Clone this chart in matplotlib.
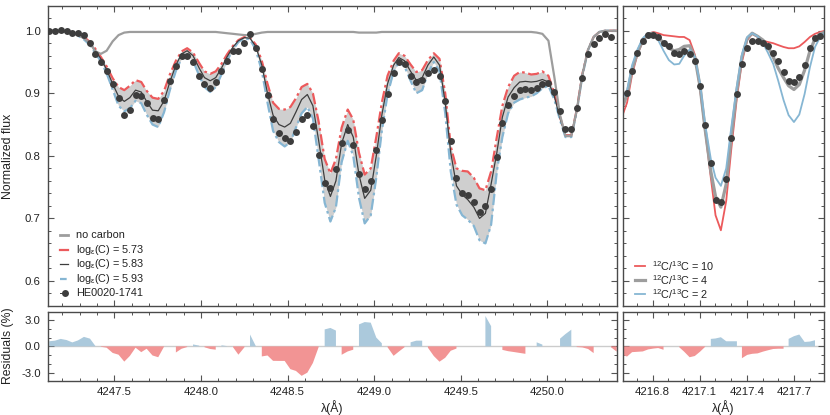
import numpy as np
import matplotlib
matplotlib.use("Agg")
import matplotlib.pyplot as plt
from matplotlib.ticker import MultipleLocator, FixedLocator, FormatStrFormatter

plt.rcParams['font.family'] = ['Liberation Sans', 'DejaVu Sans']
plt.rcParams['mathtext.fontset'] = 'custom'
plt.rcParams['mathtext.rm'] = 'Liberation Sans'
plt.rcParams['mathtext.it'] = 'Liberation Sans:italic'
plt.rcParams['axes.unicode_minus'] = False

# ---------------- left panel (CH band 4247-4250 A) ----------------
lam_obs_left = [
    4247.124, 4247.157, 4247.190, 4247.224, 4247.257, 4247.290, 4247.324, 4247.359, 4247.390, 4247.422,
    4247.455, 4247.490, 4247.524, 4247.557, 4247.589, 4247.622, 4247.655, 4247.686, 4247.720, 4247.753,
    4247.787, 4247.820, 4247.855, 4247.888, 4247.920, 4247.954, 4247.990, 4248.020, 4248.053, 4248.085,
    4248.118, 4248.150, 4248.185, 4248.216, 4248.251, 4248.283, 4248.316, 4248.351, 4248.384, 4248.416,
    4248.450, 4248.483, 4248.516, 4248.548, 4248.581, 4248.614, 4248.646, 4248.679, 4248.714, 4248.747,
    4248.779, 4248.812, 4248.847, 4248.879, 4248.912, 4248.945, 4248.980, 4249.012, 4249.044, 4249.077,
    4249.112, 4249.142, 4249.175, 4249.210, 4249.243, 4249.277, 4249.310, 4249.344, 4249.377, 4249.410,
    4249.442, 4249.475, 4249.508, 4249.540, 4249.575, 4249.608, 4249.642, 4249.675, 4249.708, 4249.740,
    4249.773, 4249.808, 4249.840, 4249.873, 4249.906, 4249.938, 4249.971, 4250.006, 4250.040, 4250.073,
    4250.104, 4250.138, 4250.169, 4250.202, 4250.235, 4250.267, 4250.300, 4250.334, 4250.367]
flux_obs_left = [
    1.000, 1.000, 1.001, 1.000, 0.996, 0.996, 0.993, 0.981, 0.963, 0.950,
    0.936, 0.915, 0.893, 0.866, 0.874, 0.897, 0.895, 0.884, 0.860, 0.859,
    0.890, 0.920, 0.943, 0.959, 0.960, 0.950, 0.927, 0.915, 0.909, 0.918,
    0.935, 0.952, 0.968, 0.968, 0.981, 0.995, 0.973, 0.939, 0.898, 0.859,
    0.837, 0.829, 0.824, 0.838, 0.859, 0.866, 0.848, 0.802, 0.756, 0.748,
    0.779, 0.821, 0.842, 0.817, 0.771, 0.747, 0.760, 0.809, 0.858, 0.899,
    0.932, 0.950, 0.946, 0.928, 0.918, 0.921, 0.932, 0.937, 0.928, 0.887,
    0.824, 0.765, 0.741, 0.738, 0.726, 0.710, 0.720, 0.747, 0.798, 0.853,
    0.881, 0.895, 0.906, 0.907, 0.906, 0.909, 0.915, 0.917, 0.902, 0.872,
    0.843, 0.843, 0.876, 0.925, 0.963, 0.978, 0.988, 0.995, 0.990]

lam_model_left = [4247.09] + lam_obs_left + [4250.42]
model_583 = [1.000,
    1.000, 1.000, 0.999, 0.998, 0.996, 0.993, 0.988, 0.980, 0.968, 0.955,
    0.938, 0.915, 0.895, 0.887, 0.893, 0.905, 0.902, 0.887, 0.873, 0.872,
    0.888, 0.918, 0.945, 0.963, 0.968, 0.960, 0.940, 0.925, 0.920, 0.925,
    0.940, 0.958, 0.974, 0.984, 0.989, 0.988, 0.975, 0.945, 0.900, 0.865,
    0.850, 0.846, 0.852, 0.870, 0.890, 0.898, 0.880, 0.825, 0.762, 0.735,
    0.760, 0.820, 0.850, 0.830, 0.770, 0.732, 0.745, 0.800, 0.865, 0.915,
    0.945, 0.957, 0.952, 0.935, 0.921, 0.925, 0.945, 0.958, 0.945, 0.885,
    0.805, 0.752, 0.738, 0.730, 0.718, 0.700, 0.708, 0.755, 0.805, 0.862,
    0.894, 0.909, 0.918, 0.919, 0.918, 0.919, 0.922, 0.918, 0.895, 0.860,
    0.832, 0.832, 0.872, 0.930, 0.970, 0.990, 0.998, 1.000, 1.000,
    1.000]
model_573 = [1.000,
    1.000, 1.000, 0.999, 0.998, 0.996, 0.994, 0.990, 0.982, 0.971, 0.958,
    0.943, 0.924, 0.910, 0.905, 0.912, 0.921, 0.918, 0.904, 0.893, 0.891,
    0.904, 0.930, 0.952, 0.967, 0.972, 0.965, 0.948, 0.935, 0.931, 0.935,
    0.947, 0.962, 0.976, 0.985, 0.990, 0.989, 0.978, 0.952, 0.915, 0.885,
    0.875, 0.874, 0.878, 0.892, 0.910, 0.915, 0.900, 0.855, 0.795, 0.772,
    0.795, 0.845, 0.874, 0.858, 0.805, 0.770, 0.780, 0.830, 0.885, 0.928,
    0.952, 0.964, 0.960, 0.946, 0.934, 0.937, 0.953, 0.964, 0.955, 0.900,
    0.815, 0.780, 0.776, 0.775, 0.765, 0.748, 0.745, 0.775, 0.830, 0.880,
    0.910, 0.928, 0.934, 0.933, 0.930, 0.931, 0.935, 0.928, 0.900, 0.862,
    0.833, 0.833, 0.873, 0.931, 0.970, 0.990, 0.998, 1.000, 1.000,
    1.000]
model_593 = [1.000,
    1.000, 1.000, 0.999, 0.998, 0.995, 0.992, 0.986, 0.977, 0.964, 0.951,
    0.932, 0.906, 0.880, 0.871, 0.876, 0.888, 0.884, 0.866, 0.850, 0.846,
    0.870, 0.905, 0.936, 0.956, 0.962, 0.952, 0.928, 0.910, 0.902, 0.910,
    0.930, 0.952, 0.970, 0.982, 0.988, 0.986, 0.970, 0.936, 0.885, 0.840,
    0.822, 0.815, 0.822, 0.845, 0.868, 0.878, 0.860, 0.795, 0.725, 0.695,
    0.718, 0.790, 0.824, 0.800, 0.733, 0.692, 0.705, 0.765, 0.840, 0.898,
    0.935, 0.950, 0.943, 0.920, 0.900, 0.905, 0.932, 0.950, 0.935, 0.868,
    0.775, 0.722, 0.705, 0.698, 0.688, 0.665, 0.660, 0.690, 0.775, 0.830,
    0.868, 0.885, 0.890, 0.893, 0.895, 0.900, 0.908, 0.912, 0.890, 0.857,
    0.830, 0.830, 0.870, 0.928, 0.969, 0.990, 0.998, 1.000, 1.000,
    1.000]
model_nocarbon = [1.000,
    1.000, 1.000, 0.999, 0.998, 0.996, 0.993, 0.988, 0.980, 0.967, 0.963,
    0.968, 0.983, 0.993, 0.997, 0.998, 0.998, 0.998, 0.998, 0.998, 0.998,
    0.998, 0.998, 0.998, 0.998, 0.998, 0.998, 0.998, 0.998, 0.998, 0.998,
    0.997, 0.996, 0.995, 0.994, 0.993, 0.993, 0.995, 0.997, 0.998, 0.998,
    0.998, 0.998, 0.998, 0.998, 0.998, 0.998, 0.998, 0.998, 0.998, 0.998,
    0.998, 0.998, 0.998, 0.998, 0.997, 0.997, 0.997, 0.997, 0.998, 0.998,
    0.998, 0.998, 0.998, 0.998, 0.998, 0.998, 0.998, 0.998, 0.998, 0.998,
    0.998, 0.998, 0.998, 0.998, 0.998, 0.998, 0.998, 0.998, 0.998, 0.998,
    0.998, 0.998, 0.998, 0.998, 0.998, 0.997, 0.995, 0.984, 0.926, 0.865,
    0.832, 0.832, 0.872, 0.930, 0.970, 0.990, 0.998, 1.000, 1.000,
    1.000]

lam_res_left = lam_obs_left + [4250.40]
res_left = [
    0.58, 0.65, 0.85, 0.72, 0.45, 0.68, 1.08, 0.88, 0.05, -0.05,
    -0.15, -0.75, -0.95, -1.74, -1.10, -0.15, -0.66, -0.27, -1.04, -1.24,
    -0.02, 0.02, -0.70, -0.27, -0.08, 0.22, 0.08, -0.10, -0.30, -0.38,
    0.12, 0.03, -0.10, -0.95, -0.10, 1.35, 0.05, -1.15, -1.04, -1.65,
    -1.66, -1.66, -2.60, -2.80, -3.36, -3.00, -1.90, -0.10, 1.93, 2.10,
    1.80, -0.96, -0.58, -0.38, 2.50, 2.77, 2.70, 1.00, 0.35, -0.10,
    -1.08, -0.60, -0.10, 0.46, 0.65, 0.65, -0.15, -1.10, -1.75, -1.30,
    -0.50, -0.25, 0.00, 0.00, 0.00, 0.00, 3.46, 2.30, 0.00, -0.40,
    -0.55, -0.65, -0.75, -0.85, 0.00, 0.46, 0.20, 0.00, 0.00, 0.88,
    1.40, 1.90, -0.08, -0.12, -0.30, -0.77, 0.00, 0.00, -0.10, -0.60]

# ---------------- right panel (isotopic ratio) ----------------
lam_obs_right = [
    4216.638, 4216.670, 4216.704, 4216.738, 4216.772, 4216.806, 4216.836, 4216.870, 4216.904, 4216.938,
    4216.970, 4217.001, 4217.036, 4217.069, 4217.103, 4217.135, 4217.171, 4217.201, 4217.235, 4217.269,
    4217.301, 4217.337, 4217.369, 4217.403, 4217.434, 4217.469, 4217.503, 4217.534, 4217.568, 4217.600,
    4217.634, 4217.666, 4217.700, 4217.734, 4217.768, 4217.802, 4217.834, 4217.867]
flux_obs_right = [
    0.900, 0.936, 0.964, 0.984, 0.993, 0.993, 0.990, 0.980, 0.975, 0.965,
    0.963, 0.967, 0.963, 0.952, 0.911, 0.850, 0.789, 0.730, 0.727, 0.763,
    0.828, 0.899, 0.947, 0.972, 0.983, 0.983, 0.980, 0.976, 0.965, 0.951,
    0.934, 0.920, 0.918, 0.926, 0.945, 0.972, 0.989, 0.991]

lam_model_right = [4216.605] + lam_obs_right + [4217.90]
ratio_10 = [0.862,
    0.885, 0.930, 0.962, 0.983, 0.995, 0.998, 0.996, 0.993, 0.992, 0.991,
    0.990, 0.990, 0.985, 0.962, 0.905, 0.840, 0.765, 0.705, 0.681, 0.728,
    0.810, 0.893, 0.950, 0.985, 0.995, 0.990, 0.984, 0.982, 0.980, 0.977,
    0.974, 0.972, 0.972, 0.975, 0.982, 0.990, 0.995, 0.998,
    1.000]
ratio_4 = [0.875,
    0.898, 0.938, 0.965, 0.985, 0.995, 0.996, 0.990, 0.980, 0.972, 0.968,
    0.970, 0.975, 0.976, 0.958, 0.910, 0.842, 0.775, 0.735, 0.718, 0.755,
    0.830, 0.905, 0.958, 0.988, 0.996, 0.991, 0.985, 0.975, 0.958, 0.940,
    0.925, 0.912, 0.906, 0.914, 0.937, 0.968, 0.987, 0.995,
    0.998]
ratio_2 = [0.890,
    0.905, 0.945, 0.970, 0.988, 0.996, 0.993, 0.985, 0.968, 0.953, 0.946,
    0.947, 0.960, 0.970, 0.958, 0.915, 0.850, 0.795, 0.765, 0.752, 0.780,
    0.845, 0.912, 0.962, 0.990, 0.996, 0.991, 0.980, 0.965, 0.947, 0.920,
    0.889, 0.865, 0.854, 0.866, 0.899, 0.942, 0.974, 0.990,
    0.998]

lam_res_right = [4216.605] + lam_obs_right
res_right = [-0.97,
    -1.16, -0.66, -0.62, -0.58, -0.35, -0.25, -0.19, -0.39, 0.00, 0.00,
    -0.10, -0.60, -1.24, -1.10, -0.60, -0.05, 0.85, 0.90, 1.04, 0.58,
    0.58, 0.58, -1.35, -0.97, -0.85, -0.80, -0.60, -0.45, -0.30, -0.27,
    -0.27, 0.85, 1.16, 1.35, 0.50, 0.55, 0.70, 0.00]

legend_left = ['no carbon',
               r'log$_{\mathregular{ε}}$(C) = 5.73',
               r'log$_{\mathregular{ε}}$(C) = 5.83',
               r'log$_{\mathregular{ε}}$(C) = 5.93',
               'HE0020-1741']
legend_right = [r'$^{12}$C/$^{13}$C = 10', r'$^{12}$C/$^{13}$C = 4', r'$^{12}$C/$^{13}$C = 2']

# ---------------- styling ----------------
RED = '#ec5a5c'
BLUE = '#86b6d3'
GRAY = '#9d9d9d'
DARK = '#3d3d3d'
BAND = '#cfcfcf'
RES_RED = '#f29494'
RES_BLUE = '#abc9dc'
SPINE = '#4a4a4a'
TXT = '#222222'
DASHDOT = (5, 1.6, 1.2, 1.6)

fig = plt.figure(figsize=(8.3, 4.15), dpi=100)
ax_l = fig.add_axes([0.0575, 0.2627, 0.6855, 0.7236])
ax_r = fig.add_axes([0.7502, 0.2627, 0.2429, 0.7236])
rs_l = fig.add_axes([0.0575, 0.0819, 0.6855, 0.1670])
rs_r = fig.add_axes([0.7502, 0.0819, 0.2429, 0.1670])

for ax in (ax_l, ax_r, rs_l, rs_r):
    for s in ax.spines.values():
        s.set_color(SPINE)
        s.set_linewidth(1.0)
    ax.tick_params(which='both', direction='in', top=True, right=True,
                   color='#555555', labelsize=8.2, labelcolor=TXT)
    ax.tick_params(which='major', length=4, width=0.8, pad=5)
    ax.tick_params(which='minor', length=2.2, width=0.7)

# left main
x_l = np.array(lam_model_left)
ax_l.fill_between(x_l, model_593, model_573, color=BAND, lw=0, zorder=1)
ax_l.plot(x_l, model_573, color=RED, lw=1.6, dashes=DASHDOT, zorder=2)
ax_l.plot(x_l, model_593, color=BLUE, lw=1.6, dashes=DASHDOT, zorder=2)
ax_l.plot(x_l, model_583, color=DARK, lw=0.9, zorder=3)
ax_l.plot(x_l, model_nocarbon, color=GRAY, lw=1.6, zorder=3)
ax_l.plot(lam_obs_left, flux_obs_left, 'o', color=DARK, ms=5.0, mew=0, zorder=5)
ax_l.set_xlim(4247.115, 4250.40)
ax_l.set_ylim(0.56, 1.04)
ax_l.xaxis.set_major_locator(MultipleLocator(0.5))
ax_l.xaxis.set_minor_locator(MultipleLocator(0.1))
ax_l.yaxis.set_major_locator(MultipleLocator(0.1))
ax_l.yaxis.set_minor_locator(MultipleLocator(0.02))
ax_l.yaxis.set_major_formatter(FormatStrFormatter('%.1f'))
ax_l.tick_params(labelbottom=False)

# manual legend (left panel), positions in axes coordinates
rows_l = [0.2364, 0.1865, 0.1388, 0.0909, 0.0443]
hx0, hx1, tx = 0.0211, 0.0357, 0.0492
leg_styles = [dict(color=GRAY, lw=2.0),
              dict(color=RED, lw=1.6),
              dict(color=DARK, lw=0.9),
              dict(color=BLUE, lw=1.6, dashes=(3, 1.0, 1, 1.0))]
for yy, st in zip(rows_l[:4], leg_styles):
    ax_l.plot([hx0, hx1], [yy, yy], transform=ax_l.transAxes, clip_on=False, zorder=6, **st)
ax_l.plot([hx0, hx0 + 0.006], [rows_l[4], rows_l[4]], transform=ax_l.transAxes,
          color=DARK, lw=0.7, zorder=6)
ax_l.plot([hx0 + 0.009], [rows_l[4]], 'o', transform=ax_l.transAxes, color=DARK,
          ms=5.0, mew=0, zorder=6)
for yy, lab in zip(rows_l, legend_left):
    ax_l.text(tx, yy, lab, transform=ax_l.transAxes, ha='left', va='center',
              fontsize=7.8, color=TXT, zorder=6)

# right main
x_r = np.array(lam_model_right)
ax_r.plot(x_r, ratio_10, color=RED, lw=1.3, zorder=2)
ax_r.plot(x_r, ratio_4, color=GRAY, lw=2.3, zorder=2)
ax_r.plot(x_r, ratio_2, color=BLUE, lw=1.3, zorder=2)
ax_r.plot(lam_obs_right, flux_obs_right, 'o', color=DARK, ms=5.0, mew=0, zorder=5)
ax_r.set_xlim(4216.61, 4217.893)
ax_r.set_ylim(0.56, 1.04)
ax_r.xaxis.set_major_locator(FixedLocator([4216.8, 4217.1, 4217.4, 4217.7]))
ax_r.xaxis.set_minor_locator(MultipleLocator(0.1))
ax_r.yaxis.set_major_locator(MultipleLocator(0.1))
ax_r.yaxis.set_minor_locator(MultipleLocator(0.02))
ax_r.tick_params(labelbottom=False, labelleft=False)

rows_r = [0.1342, 0.0866, 0.0390]
rstyles = [dict(color=RED, lw=1.3), dict(color=GRAY, lw=2.3), dict(color=BLUE, lw=1.3)]
for yy, st, lab in zip(rows_r, rstyles, legend_right):
    ax_r.plot([0.061, 0.111], [yy, yy], transform=ax_r.transAxes, clip_on=False, zorder=6, **st)
    ax_r.text(0.1438, yy, lab, transform=ax_r.transAxes, ha='left', va='center',
              fontsize=7.8, color=TXT, zorder=6)

# residuals
for ax, lam, res, xlim in ((rs_l, lam_res_left, res_left, (4247.115, 4250.40)),
                           (rs_r, lam_res_right, res_right, (4216.61, 4217.893))):
    lam = np.array(lam)
    res = np.array(res)
    ax.axhline(0.0, color='#cccccc', lw=1.0, zorder=1)
    ax.fill_between(lam, res, 0, where=res > 0, color=RES_BLUE, lw=0, zorder=2)
    ax.fill_between(lam, res, 0, where=res < 0, color=RES_RED, lw=0, zorder=2)
    ax.set_xlim(*xlim)
    ax.set_ylim(-3.95, 3.95)
    ax.yaxis.set_major_locator(MultipleLocator(3.0))
    ax.yaxis.set_minor_locator(MultipleLocator(1.0))
    ax.xaxis.set_minor_locator(MultipleLocator(0.1))
    ax.tick_params(axis='x', which='major', pad=4.5)

rs_l.xaxis.set_major_locator(MultipleLocator(0.5))
rs_l.xaxis.set_major_formatter(FormatStrFormatter('%.1f'))
rs_l.yaxis.set_major_formatter(FormatStrFormatter('%.1f'))
rs_r.xaxis.set_major_locator(FixedLocator([4216.8, 4217.1, 4217.4, 4217.7]))
rs_r.xaxis.set_major_formatter(FormatStrFormatter('%.1f'))
rs_r.tick_params(labelleft=False)

fig.text(8 / 830, 1 - 156 / 415, 'Normalized flux', rotation=90, ha='center', va='center',
         fontsize=8.8, color=TXT)
fig.text(8 / 830, 1 - 346 / 415, 'Residuals (%)', rotation=90, ha='center', va='center',
         fontsize=8.8, color=TXT)
fig.text(332 / 830, 1 - 408 / 415, 'λ(Å)', ha='center', va='center', fontsize=8.8, color=TXT)
fig.text(723 / 830, 1 - 408 / 415, 'λ(Å)', ha='center', va='center', fontsize=8.8, color=TXT)

fig.savefig('out.png', dpi=100)
